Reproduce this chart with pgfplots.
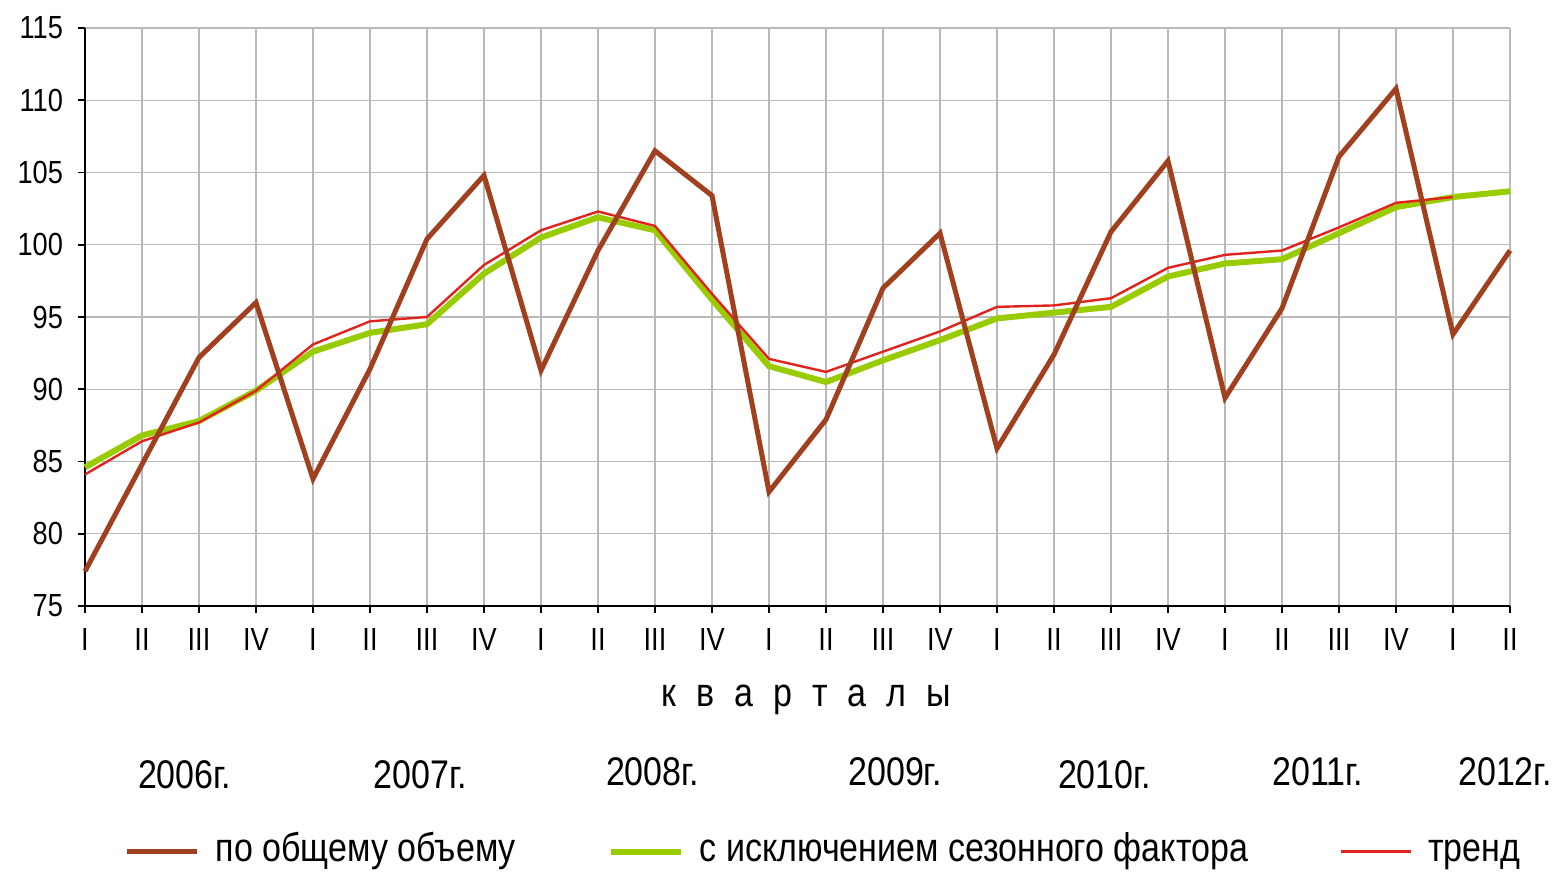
\documentclass[border=0pt]{standalone}
\usepackage{pgfplots}
\pgfplotsset{compat=1.18}
\usepackage{fontspec}
\setmainfont{Liberation Sans}[FakeStretch=0.85]
\definecolor{cbrown}{RGB}{160,64,30}
\definecolor{cgreen}{RGB}{153,204,0}
\definecolor{cred}{RGB}{225,35,30}
\definecolor{cgrid}{RGB}{185,185,185}
\begin{document}
\begin{tikzpicture}
\begin{axis}[
  name=ax,
  scale only axis=true,
  width=712.5pt, height=289pt,
  xmin=0, xmax=25, ymin=75, ymax=115,
  xtick={0,...,25},
  xticklabels={I,II,III,IV,I,II,III,IV,I,II,III,IV,I,II,III,IV,I,II,III,IV,I,II,III,IV,I,II},
  ytick={75,80,...,115},
  axis lines=left,
  axis line style={-, black, line width=1pt},
  tick align=outside,
  major tick length=3.5pt,
  tick style={black, line width=0.8pt},
  grid=major,
  major grid style={cgrid, line width=0.7pt},
  /pgf/number format/assume math mode=true,
  ticklabel style={font=\fontsize{16}{18}\selectfont},
  xticklabel style={yshift=-4pt},
  yticklabel style={xshift=-4pt},
  clip=false,
  legend columns=3,
  legend style={draw=none, fill=none, at={(0.519,-0.425)}, anchor=center,
    inner sep=0pt,
    nodes={inner ysep=0.5pt, text height=14pt, text depth=4pt},
    font=\fontsize{20}{24}\selectfont,
    /tikz/every odd column/.append style={column sep=6pt},
    /tikz/every even column/.append style={column sep=44pt}},
  legend image code/.code={\draw[#1] (0pt,0pt) -- (35pt,0pt);},
]
\addlegendimage{cbrown, line width=2.5pt}
\addlegendentry{по общему объему}
\addlegendimage{cgreen, line width=3pt}
\addlegendentry{с исключением сезонного фактора}
\addlegendimage{cred, line width=1.2pt}
\addlegendentry{тренд}

\addplot[cgreen, line width=3pt, forget plot] coordinates {
(0,84.6)(1,86.8)(2,87.8)(3,89.9)(4,92.6)(5,93.9)(6,94.5)(7,98.0)(8,100.5)(9,101.9)
(10,101.0)(11,96.2)(12,91.6)(13,90.5)(14,92.0)(15,93.4)(16,94.9)(17,95.3)(18,95.7)(19,97.8)
(20,98.7)(21,99.0)(22,100.8)(23,102.6)(24,103.3)(25,103.7)};
\addplot[cred, line width=1.2pt, forget plot] coordinates {
(0,84.1)(1,86.4)(2,87.7)(3,89.9)(4,93.1)(5,94.7)(6,95.0)(7,98.6)(8,101.0)(9,102.3)
(10,101.3)(11,96.6)(12,92.1)(13,91.2)(14,92.6)(15,94.0)(16,95.7)(17,95.8)(18,96.3)(19,98.4)
(20,99.3)(21,99.6)(22,101.2)(23,102.9)(24,103.3)};
\addplot[cbrown, line width=2.5pt, forget plot] coordinates {
(0,77.4)(1,84.8)(2,92.2)(3,96.0)(4,83.8)(5,91.4)(6,100.4)(7,104.8)(8,91.3)(9,99.6)
(10,106.5)(11,103.4)(12,82.9)(13,87.9)(14,97.0)(15,100.8)(16,85.9)(17,92.4)(18,100.9)(19,105.8)
(20,89.4)(21,95.6)(22,106.1)(23,110.8)(24,93.8)(25,99.6)};

\node[font=\fontsize{20}{24}\selectfont] at (axis cs:12.65,68.5) {к\hspace{0.5em}в\hspace{0.5em}а\hspace{0.5em}р\hspace{0.5em}т\hspace{0.5em}а\hspace{0.5em}л\hspace{0.5em}ы};
\begin{scope}[every node/.style={font=\fontsize{20}{24}\selectfont}]
\node at (axis cs:1.75,63.3) {2006г.};
\node at (axis cs:5.88,63.3) {2007г.};
\node at (axis cs:9.96,63.5) {2008г.};
\node at (axis cs:14.21,63.5) {2009г.};
\node at (axis cs:17.89,63.3) {2010г.};
\node at (axis cs:21.63,63.5) {2011г.};
\node at (axis cs:24.91,63.5) {2012г.};
\end{scope}
\end{axis}
\pgfresetboundingbox
\path ([xshift=-42.5pt,yshift=-133.5pt]ax.south west) rectangle ([xshift=24pt,yshift=14pt]ax.north east);
\end{tikzpicture}
\end{document}
